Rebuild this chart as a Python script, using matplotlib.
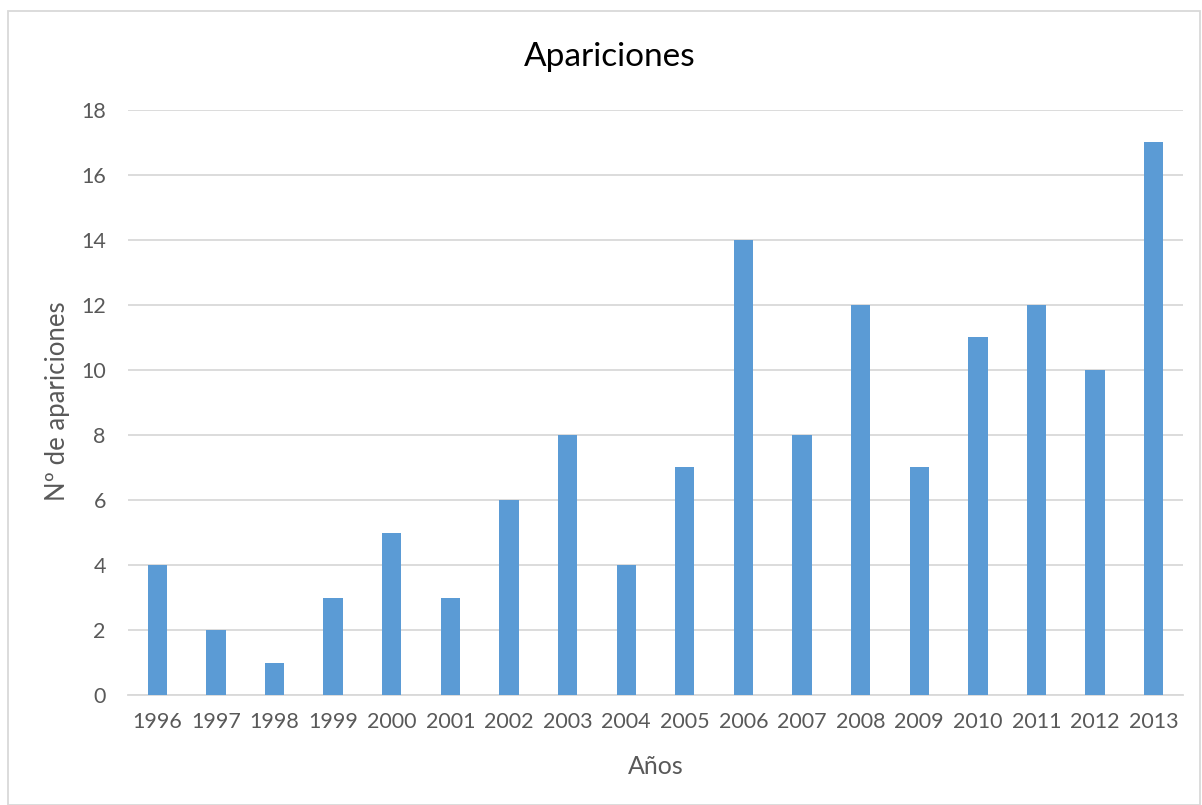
import matplotlib
matplotlib.use("Agg")
import matplotlib.pyplot as plt
from matplotlib.patches import Rectangle

years = ["1996", "1997", "1998", "1999", "2000", "2001", "2002", "2003", "2004",
         "2005", "2006", "2007", "2008", "2009", "2010", "2011", "2012", "2013"]
counts = [4, 2, 1, 3, 5, 3, 6, 8, 4, 7, 14, 8, 12, 7, 11, 12, 10, 17]
yticks = [0, 2, 4, 6, 8, 10, 12, 14, 16, 18]

plt.rcParams['font.family'] = ['Lato', 'DejaVu Sans']

W, H = 1202, 805
fig = plt.figure(figsize=(W / 100, H / 100), dpi=100)
ax_left, ax_right, ax_top, ax_bot = 128, 1183, 110, 695
ax = fig.add_axes([ax_left / W, (H - ax_bot) / H, (ax_right - ax_left) / W, (ax_bot - ax_top) / H])

x = list(range(len(years)))
ax.bar(x, counts, width=0.33, color="#5B9BD5", zorder=3)
ax.set_xlim(-0.5, len(years) - 0.5)
ax.set_ylim(0, 18)
ax.set_yticks(yticks)
ax.set_xticks(x)
ax.set_xticklabels(years)
ax.grid(axis="y", color="#D9D9D9", linewidth=1.3, zorder=0)
for s in ["top", "right", "left"]:
    ax.spines[s].set_visible(False)
ax.spines["bottom"].set_color("#D9D9D9")
ax.spines["bottom"].set_linewidth(1.3)
ax.tick_params(axis="both", length=0, labelsize=15.5, colors="#595959")
ax.tick_params(axis="x", pad=12)
ax.tick_params(axis="y", pad=16)

aw, ah = ax_right - ax_left, ax_bot - ax_top
ax.set_xlabel("Años", fontsize=18, color="#595959", va="center")
ax.xaxis.set_label_coords(0.5, (ax_bot - 766) / ah)
ax.set_ylabel("Nº de apariciones", fontsize=18.5, color="#595959", va="center")
ax.yaxis.set_label_coords((57 - ax_left) / aw, (ax_bot - 401) / ah)
fig.text(610 / W, 1 - 57 / H, "Apariciones", ha="center", va="center",
         fontsize=24, color="#000000")

border = Rectangle((8 / W, 0.5 / H), (1200 - 8) / W, (H - 11 - 0.5) / H,
                   transform=fig.transFigure, fill=False, edgecolor="#D9D9D9",
                   linewidth=1.3)
fig.patches.append(border)

fig.savefig("out.png", dpi=100)
